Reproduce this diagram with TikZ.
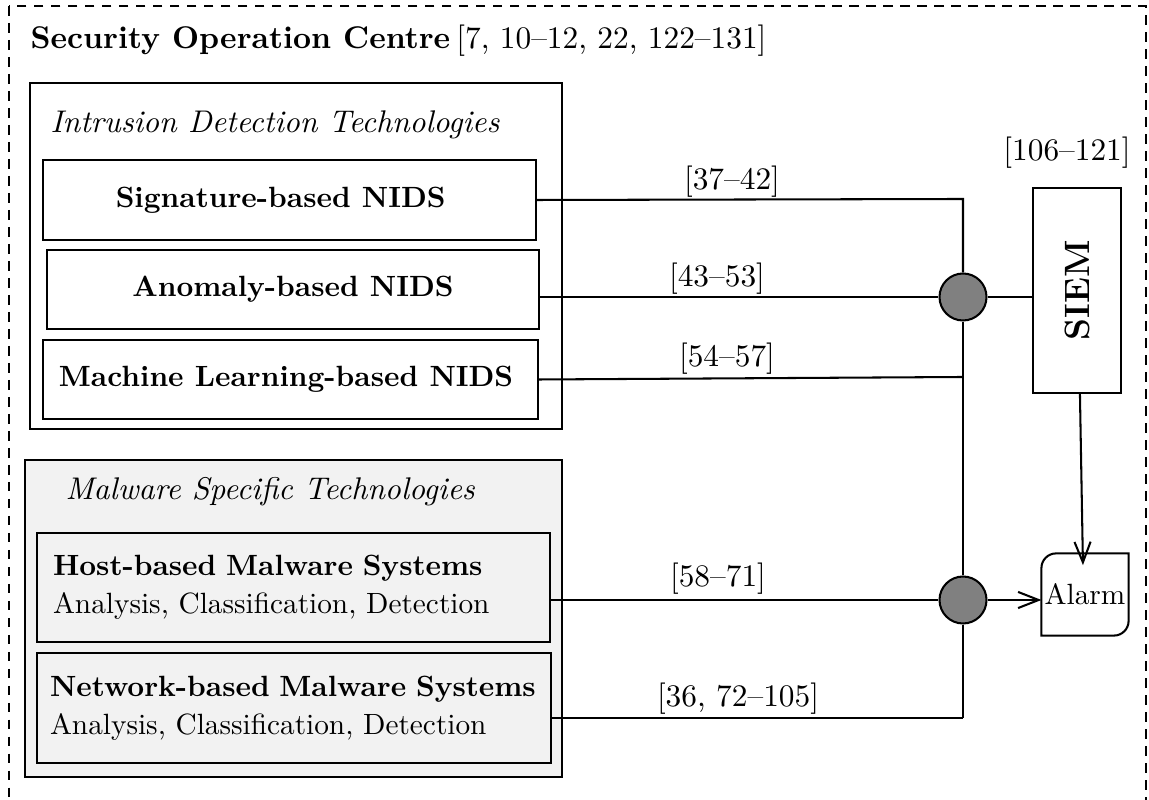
\documentclass[tikz,border=0pt]{standalone}
\usepackage{graphicx}
\usetikzlibrary{arrows.meta}
\newcommand\pxu{0.3413pt}
\newcommand\lblsize{\fontsize{10.7pt}{13pt}\selectfont}
\definecolor{boxgray}{gray}{0.95}
\tikzset{
  every node/.style={inner sep=0pt},
  box/.style 2 args={draw, line width=0.7pt, minimum width=#1*\pxu, minimum height=#2*\pxu},
  junction/.style={circle, draw, line width=0.7pt, fill=gray, minimum size=47*\pxu},
  conn/.style={line width=0.7pt},
  arrowconn/.style={line width=0.7pt, -{Straight Barb[length=7pt, width=5.5pt, line width=0.7pt]}},
  reflabel/.style={anchor=south, font=\lblsize},
}
\begin{document}
\begin{tikzpicture}[x=0.3413pt, y=-0.3413pt]
  \clip (0,0) rectangle (1149,800);
  % outer dashed frame of the operation centre
  \draw[line width=0.75pt, dash pattern=on 3.3pt off 2.5pt] (9,6) rectangle (1146,900);
  \node[anchor=base west, font=\lblsize\bfseries] (soc) at (30,49) {Security Operation Centre};
  \node[anchor=base west, font=\lblsize] (socref) at ([xshift=1.7pt]soc.base east) {[7, 10--12, 22, 122--131]};

  % intrusion detection group
  \node[box={532}{346}] (ids) at (296,256) {};
  \node[anchor=base west, font=\lblsize\itshape] (idstitle) at (50,133) {Intrusion Detection Technologies};
  \node[box={493}{80}, font=\bfseries] (sig) at (289.5,200) {Signature-based NIDS\hspace*{6pt}};
  \node[box={492}{79}, font=\bfseries] (ano) at (293,289.5) {Anomaly-based NIDS};
  \node[box={495}{79}, font=\bfseries] (ml) at (290.5,379.5) {Machine Learning-based NIDS\hspace*{3pt}};

  % malware group
  \node[box={537}{317}, fill=boxgray, line width=0.8pt] (mw) at (293.5,618.5) {};
  \node[anchor=base west, font=\lblsize\itshape] (mwtitle) at (65,500) {Malware Specific Technologies};
  \node[box={513}{109}, fill=boxgray, text width=481*\pxu, align=left] (host) at (293.5,587.5)
    {\textbf{Host-based Malware Systems}\\[1pt] Analysis, Classification, Detection};
  \node[box={514}{110}, fill=boxgray, text width=488*\pxu, align=left] (net) at (294,708)
    {\textbf{Network-based Malware Systems}\\[1pt] Analysis, Classification, Detection};

  % junctions, SIEM and alarm
  \node[junction] (c1) at (963,297) {};
  \node[junction] (c2) at (963,600) {};
  \node[box={88}{205}] (siem) at (1077,290.5) {\rotatebox{90}{\large\bfseries SIEM}};
  \node[reflabel] (siemref) at (1067,169) {[106--121]};
  \node[minimum width=86*\pxu, minimum height=81*\pxu] (alarm) at (1085,594.5) {Alarm};
  \draw[conn] (alarm.south west) -- ([yshift=-5pt]alarm.north west)
    arc[start angle=180, end angle=90, radius=5pt] -- (alarm.north east)
    -- ([yshift=5pt]alarm.south east)
    arc[start angle=0, end angle=-90, radius=5pt] -- cycle;

  \coordinate (j1) at (963,199);
  \coordinate (j3) at (963,377);
  \coordinate (jb) at (963,718);

  % feeds into the collector line
  \draw[conn] (sig.east) -- (j1) -- (c1.north);
  \draw[conn] (ano.east |- c1.west) -- (c1.west);
  \draw[conn] (ml.east) -- (j3);
  \draw[conn] (c1.south) -- (c2.north);
  \draw[conn] (c2.south) -- (jb);
  \draw[conn] (host.east |- c2.west) -- (c2.west);
  \draw[conn] (net.east |- jb) -- (jb);
  \draw[conn] (c1.east) -- (c1.east -| siem.west);
  \draw[arrowconn] ([xshift=1pt]siem.south) -- ([xshift=-0.7pt, yshift=-4pt]alarm.north);
  \draw[arrowconn] (c2.east) -- (c2.east -| alarm.west);

  % reference labels on the links
  \node[reflabel] (r1) at (732,198) {[37--42]};
  \node[reflabel] (r2) at (717,295) {[43--53]};
  \node[reflabel] (r3) at (727,375) {[54--57]};
  \node[reflabel] (r4) at (718,595) {[58--71]};
  \node[reflabel] (r5) at (738,715) {[36, 72--105]};
\end{tikzpicture}
\end{document}
